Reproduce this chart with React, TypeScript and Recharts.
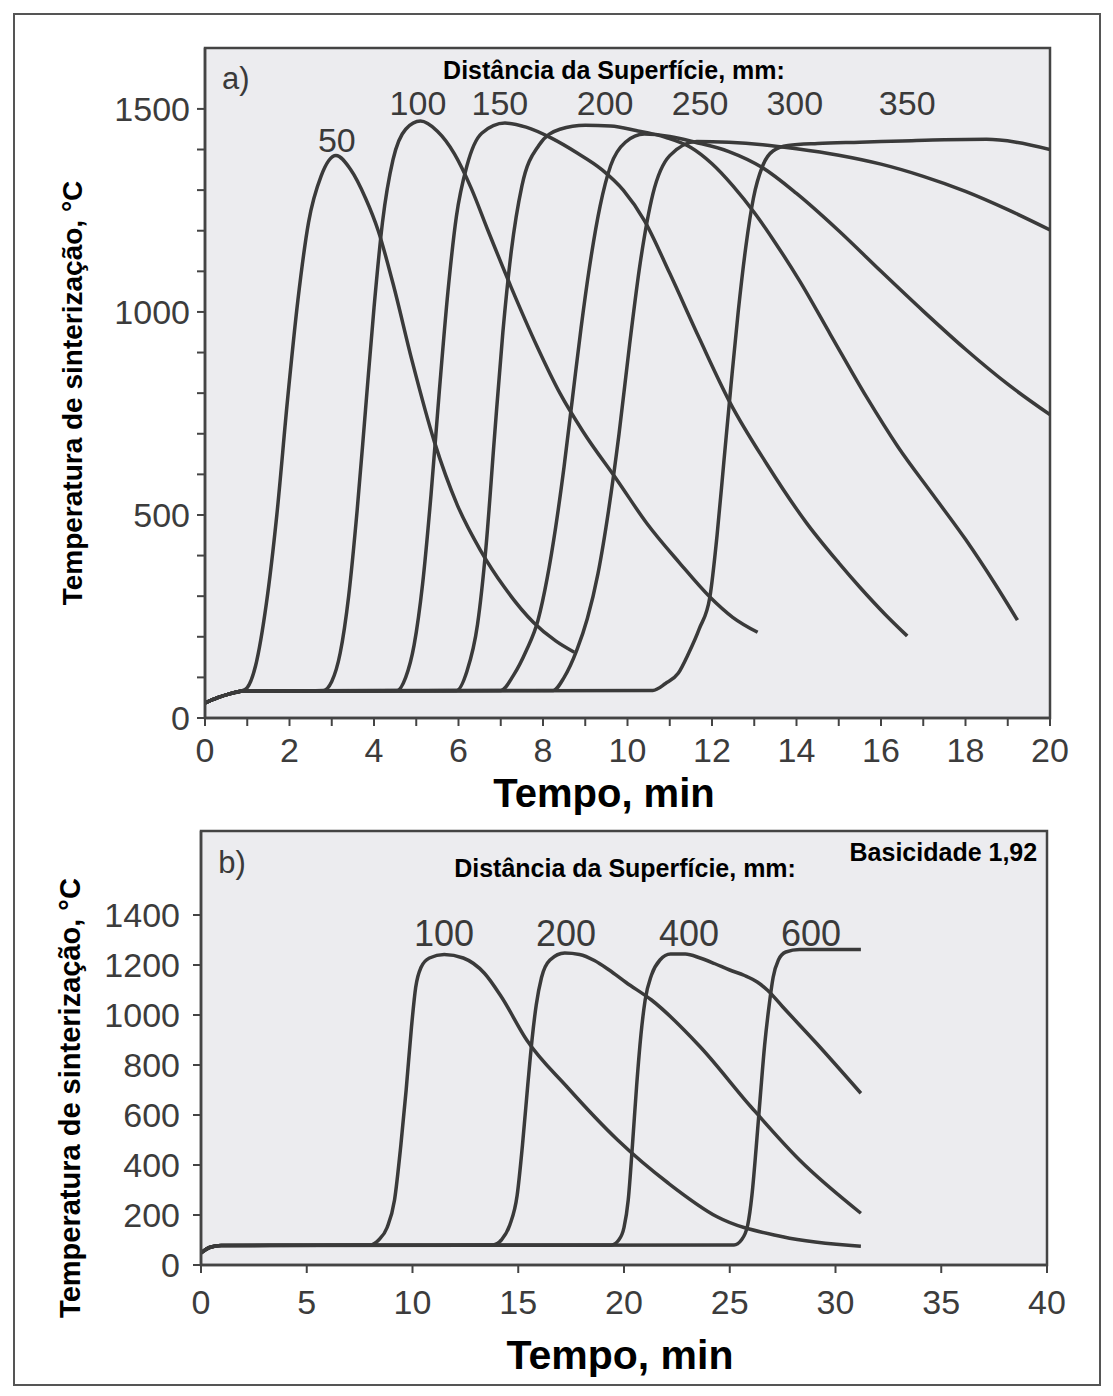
import React from 'react';
import { LineChart, Line, XAxis, YAxis, CartesianGrid, ReferenceArea, ReferenceDot } from 'recharts';

const FONT = "'Liberation Sans', Arial, Helvetica, sans-serif";
const INK = '#3a3a3a';
const AX = '#444444';

type P = [number, number];

// ---------- Chart a) : time (min) vs temperature (°C) ----------
const a50: P[] = [[0,37],[0.3,50],[0.6,60],[0.85,66],[1.0,75],[1.2,130],[1.45,280],[1.7,500],[1.95,780],[2.2,1030],[2.45,1220],[2.75,1335],[3.1,1385],[3.45,1350],[3.8,1280],[4.1,1200],[4.45,1070],[4.9,880],[5.43,680],[5.97,525],[6.52,413],[7.1,320],[7.77,236],[8.3,190],[8.74,162]];
const a100: P[] = [[0,37],[0.3,50],[0.6,60],[0.85,66],[2.8,68],[3.0,90],[3.2,160],[3.4,300],[3.6,510],[3.8,760],[4.0,1010],[4.2,1220],[4.45,1375],[4.75,1450],[5.1,1470],[5.5,1445],[5.9,1390],[6.3,1305],[6.7,1200],[7.25,1060],[7.86,915],[8.4,800],[8.95,705],[9.76,585],[10.46,479],[11.24,381],[11.95,298],[12.49,248],[13.08,211]];
const a150: P[] = [[0,37],[0.3,50],[0.6,60],[0.85,66],[4.55,68],[4.75,100],[4.95,180],[5.15,330],[5.35,550],[5.55,810],[5.75,1050],[5.95,1235],[6.2,1360],[6.55,1440],[7.1,1465],[7.6,1455],[8.2,1428],[8.8,1392],[9.4,1350],[9.9,1300],[10.4,1225],[11.0,1095],[11.7,935],[12.42,778],[13.3,625],[14.24,480],[15.0,382],[15.5,322],[16.1,255],[16.62,202]];
const a200: P[] = [[0,37],[0.3,50],[0.6,60],[0.85,66],[5.96,68],[6.2,115],[6.45,230],[6.65,420],[6.85,690],[7.05,950],[7.25,1150],[7.5,1310],[7.9,1410],[8.4,1450],[9.0,1460],[9.6,1458],[10.2,1447],[10.9,1430],[11.5,1405],[12.0,1365],[12.5,1310],[13.0,1245],[13.5,1170],[14.07,1077],[14.8,945],[15.66,790],[16.4,668],[17.22,551],[18.0,440],[18.7,330],[19.23,241]];
const a250: P[] = [[0,37],[0.3,50],[0.6,60],[0.85,66],[7.0,68],[7.3,105],[7.6,165],[7.88,240],[8.1,345],[8.3,470],[8.5,620],[8.7,790],[8.9,960],[9.1,1110],[9.35,1260],[9.6,1360],[9.95,1418],[10.4,1438],[11.0,1432],[11.6,1418],[12.4,1395],[13.2,1355],[14.0,1292],[15.0,1200],[16.0,1100],[17.0,1002],[18.0,908],[19.0,822],[20,747]];
const a300: P[] = [[0,37],[0.3,50],[0.6,60],[0.85,66],[8.24,68],[8.5,100],[8.8,167],[9.05,245],[9.3,355],[9.55,510],[9.8,700],[10.05,920],[10.3,1120],[10.6,1290],[11.0,1385],[11.64,1420],[12.4,1418],[13.2,1412],[14.0,1402],[15.0,1386],[16.0,1364],[17.0,1334],[18.0,1297],[19.0,1252],[20,1202]];
const a350: P[] = [[0,37],[0.3,50],[0.6,60],[0.85,66],[10.6,68],[10.9,85],[11.2,110],[11.45,160],[11.7,220],[11.95,298],[12.12,450],[12.28,630],[12.45,820],[12.62,1000],[12.8,1160],[12.98,1280],[13.2,1360],[13.45,1397],[13.8,1410],[14.5,1415],[15.5,1418],[16.5,1421],[17.5,1424],[18.5,1425],[19.2,1418],[20,1400]];

const seriesA = [
  { name: '50', pts: a50 },
  { name: '100', pts: a100 },
  { name: '150', pts: a150 },
  { name: '200', pts: a200 },
  { name: '250', pts: a250 },
  { name: '300', pts: a300 },
  { name: '350', pts: a350 },
];
const curveLabelsA = [
  { text: '50', x: 3.12, y: 1424 },
  { text: '100', x: 5.04, y: 1515 },
  { text: '150', x: 6.98, y: 1515 },
  { text: '200', x: 9.47, y: 1515 },
  { text: '250', x: 11.72, y: 1515 },
  { text: '300', x: 13.96, y: 1515 },
  { text: '350', x: 16.62, y: 1515 },
];
const xTicksA = [0,1,2,3,4,5,6,7,8,9,10,11,12,13,14,15,16,17,18,19,20];
const yTicksA = [0,100,200,300,400,500,600,700,800,900,1000,1100,1200,1300,1400,1500];
const domainXA: [number, number] = [0, 20];
const domainYA: [number, number] = [0, 1650];

// ---------- Chart b) ----------
const b100: P[] = [[0,48],[0.4,70],[0.95,78],[8.0,80],[8.4,100],[8.8,150],[9.15,260],[9.45,480],[9.7,700],[9.95,950],[10.15,1110],[10.4,1190],[10.8,1228],[11.5,1242],[12.4,1228],[13.4,1167],[14.2,1073],[15.4,900],[17.3,713],[19.7,500],[22.1,327],[24.4,193],[27.5,113],[31.2,75]];
const b200: P[] = [[0,48],[0.4,70],[0.95,78],[13.8,80],[14.2,100],[14.6,160],[14.95,280],[15.2,480],[15.45,720],[15.65,900],[15.85,1040],[16.1,1150],[16.5,1220],[17.2,1248],[17.9,1242],[18.6,1218],[19.3,1180],[20.1,1130],[21.3,1060],[23.6,873],[26.0,633],[28.3,420],[31.2,207]];
const b400: P[] = [[0,48],[0.4,70],[0.95,78],[19.4,80],[19.75,100],[20.0,150],[20.2,260],[20.4,480],[20.6,720],[20.8,920],[21.0,1060],[21.3,1160],[21.7,1220],[22.2,1244],[22.9,1244],[23.6,1228],[24.3,1205],[25.0,1180],[25.7,1158],[26.3,1132],[26.8,1098],[27.5,1033],[29.1,887],[31.2,687]];
const b600: P[] = [[0,48],[0.4,70],[0.95,78],[25.2,80],[25.55,100],[25.85,160],[26.05,280],[26.25,470],[26.45,680],[26.65,880],[26.85,1030],[27.05,1150],[27.3,1220],[27.65,1252],[28.3,1262],[31.2,1262]];

const seriesB = [
  { name: '100', pts: b100 },
  { name: '200', pts: b200 },
  { name: '400', pts: b400 },
  { name: '600', pts: b600 },
];
const curveLabelsB = [
  { text: '100', x: 11.49, y: 1328 },
  { text: '200', x: 17.26, y: 1328 },
  { text: '400', x: 23.07, y: 1328 },
  { text: '600', x: 28.84, y: 1328 },
];
const xTicksB = [0,5,10,15,20,25,30,35,40];
const yTicksB = [0,200,400,600,800,1000,1200,1400];
const domainXB: [number, number] = [0, 40];
const domainYB: [number, number] = [0, 1736];

const toPts = (arr: P[]) => arr.map(([x, y]) => ({ x, y }));

const tickStyle = { fontSize: 34, fill: '#3c3c3c', fontFamily: FONT };

const xTitle = (cx: number, cy: number, size: number) => () => (
  <text x={cx} y={cy} textAnchor="middle" dominantBaseline="central" fontSize={size} fontWeight="bold" fontFamily={FONT} fill="#000">
    Tempo, min
  </text>
);
const yTitle = (cx: number, cy: number, size: number) => () => (
  <text x={cx} y={cy} transform={`rotate(-90, ${cx}, ${cy})`} textAnchor="middle" dominantBaseline="central" fontSize={size} fontWeight="bold" fontFamily={FONT} fill="#000">
    Temperatura de sinterização, °C
  </text>
);

const textDot = (key: string, x: number, y: number, text: string, size: number, bold = false) => (
  <ReferenceDot
    key={key}
    x={x}
    y={y}
    r={0}
    fill="none"
    stroke="none"
    ifOverflow="visible"
    label={{ value: text, position: 'center', fontSize: size, fill: bold ? '#000' : INK, fontFamily: FONT, fontWeight: bold ? 'bold' : 'normal' }}
  />
);

function ChartA() {
  return (
    <LineChart width={1113} height={830} margin={{ top: 48, right: 63, left: 0, bottom: 0 }} style={{ fontFamily: FONT }}>
      <CartesianGrid fill="#ececef" stroke="none" horizontal={false} vertical={false} />
      <XAxis
        type="number" dataKey="x" domain={domainXA} ticks={xTicksA} interval={0} allowDataOverflow
        tickFormatter={(v: number) => (v % 2 === 0 ? String(v) : '')}
        tickSize={8} tickMargin={12} height={112}
        axisLine={{ stroke: AX, strokeWidth: 2.5 }} tickLine={{ stroke: AX, strokeWidth: 2 }} tick={tickStyle}
        label={xTitle(604, 793, 40)}
      />
      <YAxis
        type="number" domain={domainYA} ticks={yTicksA} interval={0} allowDataOverflow
        tickFormatter={(v: number) => (v % 500 === 0 ? String(v) : '')}
        tickSize={8} tickMargin={7} width={205}
        axisLine={{ stroke: AX, strokeWidth: 2.5 }} tickLine={{ stroke: AX, strokeWidth: 2 }} tick={tickStyle}
        label={yTitle(72, 393, 28)}
      />
      <ReferenceArea x1={0} x2={20} y1={0} y2={1650} fill="none" stroke={AX} strokeWidth={2.5} ifOverflow="visible" />
      {seriesA.map((s) => (
        <Line key={s.name} data={toPts(s.pts)} dataKey="y" name={s.name} type="monotone" stroke={INK} strokeWidth={3.5} dot={false} activeDot={false} isAnimationActive={false} />
      ))}
      {curveLabelsA.map((l) => textDot('la' + l.text, l.x, l.y, l.text, 34))}
      {textDot('a-tag', 0.73, 1576, 'a)', 31)}
      {textDot('a-title', 9.68, 1596, 'Distância da Superfície, mm:', 25, true)}
    </LineChart>
  );
}

function ChartB() {
  return (
    <LineChart width={1113} height={620} margin={{ top: 51, right: 66, left: 0, bottom: 0 }} style={{ fontFamily: FONT }}>
      <CartesianGrid fill="#ececef" stroke="none" horizontal={false} vertical={false} />
      <XAxis
        type="number" dataKey="x" domain={domainXB} ticks={xTicksB} interval={0} allowDataOverflow
        tickSize={8} tickMargin={17} height={135}
        axisLine={{ stroke: AX, strokeWidth: 2.5 }} tickLine={{ stroke: AX, strokeWidth: 2 }} tick={tickStyle}
        label={xTitle(620, 575, 41)}
      />
      <YAxis
        type="number" domain={domainYB} ticks={yTicksB} interval={0} allowDataOverflow
        tickSize={8} tickMargin={13} width={201}
        axisLine={{ stroke: AX, strokeWidth: 2.5 }} tickLine={{ stroke: AX, strokeWidth: 2 }} tick={tickStyle}
        label={yTitle(70, 318, 29)}
      />
      <ReferenceArea x1={0} x2={40} y1={0} y2={1736} fill="none" stroke={AX} strokeWidth={2.5} ifOverflow="visible" />
      {seriesB.map((s) => (
        <Line key={s.name} data={toPts(s.pts)} dataKey="y" name={s.name} type="monotone" stroke={INK} strokeWidth={3.5} dot={false} activeDot={false} isAnimationActive={false} />
      ))}
      {curveLabelsB.map((l) => textDot('lb' + l.text, l.x, l.y, l.text, 36))}
      {textDot('b-tag', 1.47, 1612, 'b)', 31)}
      {textDot('b-title', 20.05, 1588, 'Distância da Superfície, mm:', 25, true)}
      {textDot('b-basic', 35.1, 1652, 'Basicidade 1,92', 25, true)}
    </LineChart>
  );
}

export default function App() {
  return (
    <div style={{ position: 'absolute', left: 0, top: 0, width: 1113, height: 1396, background: '#fff' }}>
      <div style={{ position: 'absolute', left: 13, top: 13, width: 1088, height: 1373, border: '2.5px solid #555', boxSizing: 'border-box' }} />
      <div style={{ position: 'absolute', left: 0, top: 0 }}>
        <ChartA />
      </div>
      <div style={{ position: 'absolute', left: 0, top: 780 }}>
        <ChartB />
      </div>
    </div>
  );
}
